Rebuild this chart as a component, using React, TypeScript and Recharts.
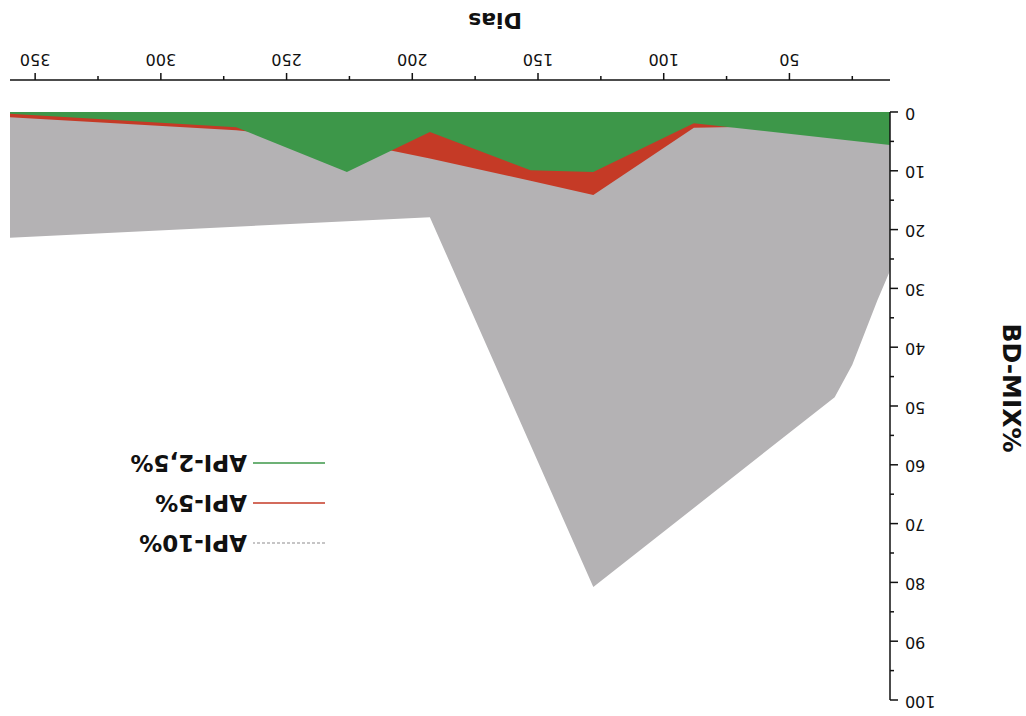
import { AreaChart, Area, XAxis, YAxis, ReferenceLine, Legend } from "recharts";

// the reference scan is upside down, so the whole chart is drawn normally and turned 180deg

const grayDays = [10, 15, 20, 25, 32, 128, 193, 360];
const grayValues = [27, 32, 37.5, 43, 48.5, 80.8, 17.9, 21.4];

const redDays = [10, 88, 128, 153, 193, 226, 270, 360];
const redValues = [2.0, 2.7, 14.1, 11.7, 7.9, 5.0, 3.1, 0.9];

const greenDays = [10, 88, 128, 153, 193, 226, 270, 360];
const greenValues = [5.6, 1.9, 10.2, 9.9, 3.4, 10.2, 2.6, 0.3];

const xTicks = [25, 50, 75, 100, 125, 150, 175, 200, 225, 250, 275, 300, 325, 350];
const yTicks = [0, 5, 10, 15, 20, 25, 30, 35, 40, 45, 50, 55, 60, 65, 70, 75, 80, 85, 90, 95, 100];

const legendNames = ["API-10%", "API-5%", "API-2,5%"];

const GREEN = "#3d9749";
const RED = "#c53a26";
const GRAY = "#b4b2b4";
const INK = "#111";

const toPoints = (days: number[], values: number[]) =>
  days.map((d, i) => ({ d, v: values[i] }));

const XTick = ({ x, y, payload }: any) => {
  const major = payload.value % 50 === 0;
  return (
    <g>
      <line x1={x} x2={x} y1={y} y2={y + (major ? 7 : 4)} stroke={INK} strokeWidth={1.5} />
      {major && (
        <text x={x} y={y + 22} textAnchor="middle" dominantBaseline="middle" fontSize={16} fill={INK}>
          {payload.value}
        </text>
      )}
    </g>
  );
};

const YTick = ({ x, y, payload }: any) => {
  const major = payload.value % 10 === 0;
  return (
    <g>
      <line x1={x} x2={x - (major ? 8 : 4)} y1={y} y2={y} stroke={INK} strokeWidth={1.5} />
      {major && (
        <text x={x - 15} y={y} textAnchor="end" dominantBaseline="middle" fontSize={16} fill={INK}>
          {payload.value}
        </text>
      )}
    </g>
  );
};

const LegendBox = () => {
  const styles = [
    { stroke: GRAY, dash: "3 2" },
    { stroke: RED, dash: undefined },
    { stroke: GREEN, dash: undefined },
  ];
  return (
    <div>
      {legendNames.map((name, i) => (
        <div key={name} style={{ display: "flex", alignItems: "center", height: 40 }}>
          <svg width={72} height={4} style={{ marginRight: 6 }}>
            <line x1={0} x2={72} y1={2} y2={2} stroke={styles[i].stroke} strokeWidth={1.5} strokeDasharray={styles[i].dash} />
          </svg>
          <span style={{ fontWeight: "bold", fontSize: 23, color: INK, whiteSpace: "nowrap" }}>{name}</span>
        </div>
      ))}
    </div>
  );
};

export default function App() {
  return (
    <div
      style={{
        position: "absolute",
        left: 0,
        top: 0,
        width: 1026,
        height: 716,
        background: "#fff",
        transform: "rotate(180deg)",
        fontFamily: "'DejaVu Sans', sans-serif",
      }}
    >
      <AreaChart width={1026} height={716} margin={{ top: 16, right: 10, left: 76, bottom: 40 }}>
        <XAxis
          dataKey="d"
          type="number"
          domain={[10, 360]}
          allowDataOverflow
          ticks={xTicks}
          interval={0}
          tickSize={0}
          tickMargin={0}
          tick={<XTick />}
          axisLine={{ stroke: INK, strokeWidth: 1.5 }}
          height={40}
        />
        <YAxis
          type="number"
          domain={[-5.44, 100]}
          allowDataOverflow
          ticks={yTicks}
          interval={0}
          tickSize={0}
          tickMargin={0}
          tick={<YTick />}
          axisLine={false}
          width={60}
        />
        <Area
          data={toPoints(grayDays, grayValues)}
          dataKey="v"
          name="API-10%"
          type="linear"
          baseValue={0}
          fill={GRAY}
          fillOpacity={1}
          stroke="none"
          dot={false}
          activeDot={false}
          isAnimationActive={false}
        />
        <Area
          data={toPoints(redDays, redValues)}
          dataKey="v"
          name="API-5%"
          type="linear"
          baseValue={0}
          fill={RED}
          fillOpacity={1}
          stroke="none"
          dot={false}
          activeDot={false}
          isAnimationActive={false}
        />
        <Area
          data={toPoints(greenDays, greenValues)}
          dataKey="v"
          name="API-2,5%"
          type="linear"
          baseValue={0}
          fill={GREEN}
          fillOpacity={1}
          stroke="none"
          dot={false}
          activeDot={false}
          isAnimationActive={false}
        />
        <ReferenceLine
          segment={[{ x: 10, y: 0 }, { x: 10, y: 100 }]}
          stroke={INK}
          strokeWidth={1.5}
          ifOverflow="visible"
        />
        <Legend
          layout="vertical"
          align="center"
          verticalAlign="middle"
          content={<LegendBox />}
          wrapperStyle={{ left: 701, top: 153, width: "auto" }}
        />
      </AreaChart>
      <div
        style={{
          position: "absolute",
          left: 15,
          top: 328,
          transform: "translate(-50%, -50%) rotate(-90deg)",
          fontWeight: "bold",
          fontSize: 25,
          color: INK,
          whiteSpace: "nowrap",
        }}
      >
        BD-MIX%
      </div>
      <div
        style={{
          position: "absolute",
          left: 531,
          top: 696,
          transform: "translate(-50%, -50%)",
          fontWeight: "bold",
          fontSize: 22,
          color: INK,
          whiteSpace: "nowrap",
        }}
      >
        Dias
      </div>
    </div>
  );
}
